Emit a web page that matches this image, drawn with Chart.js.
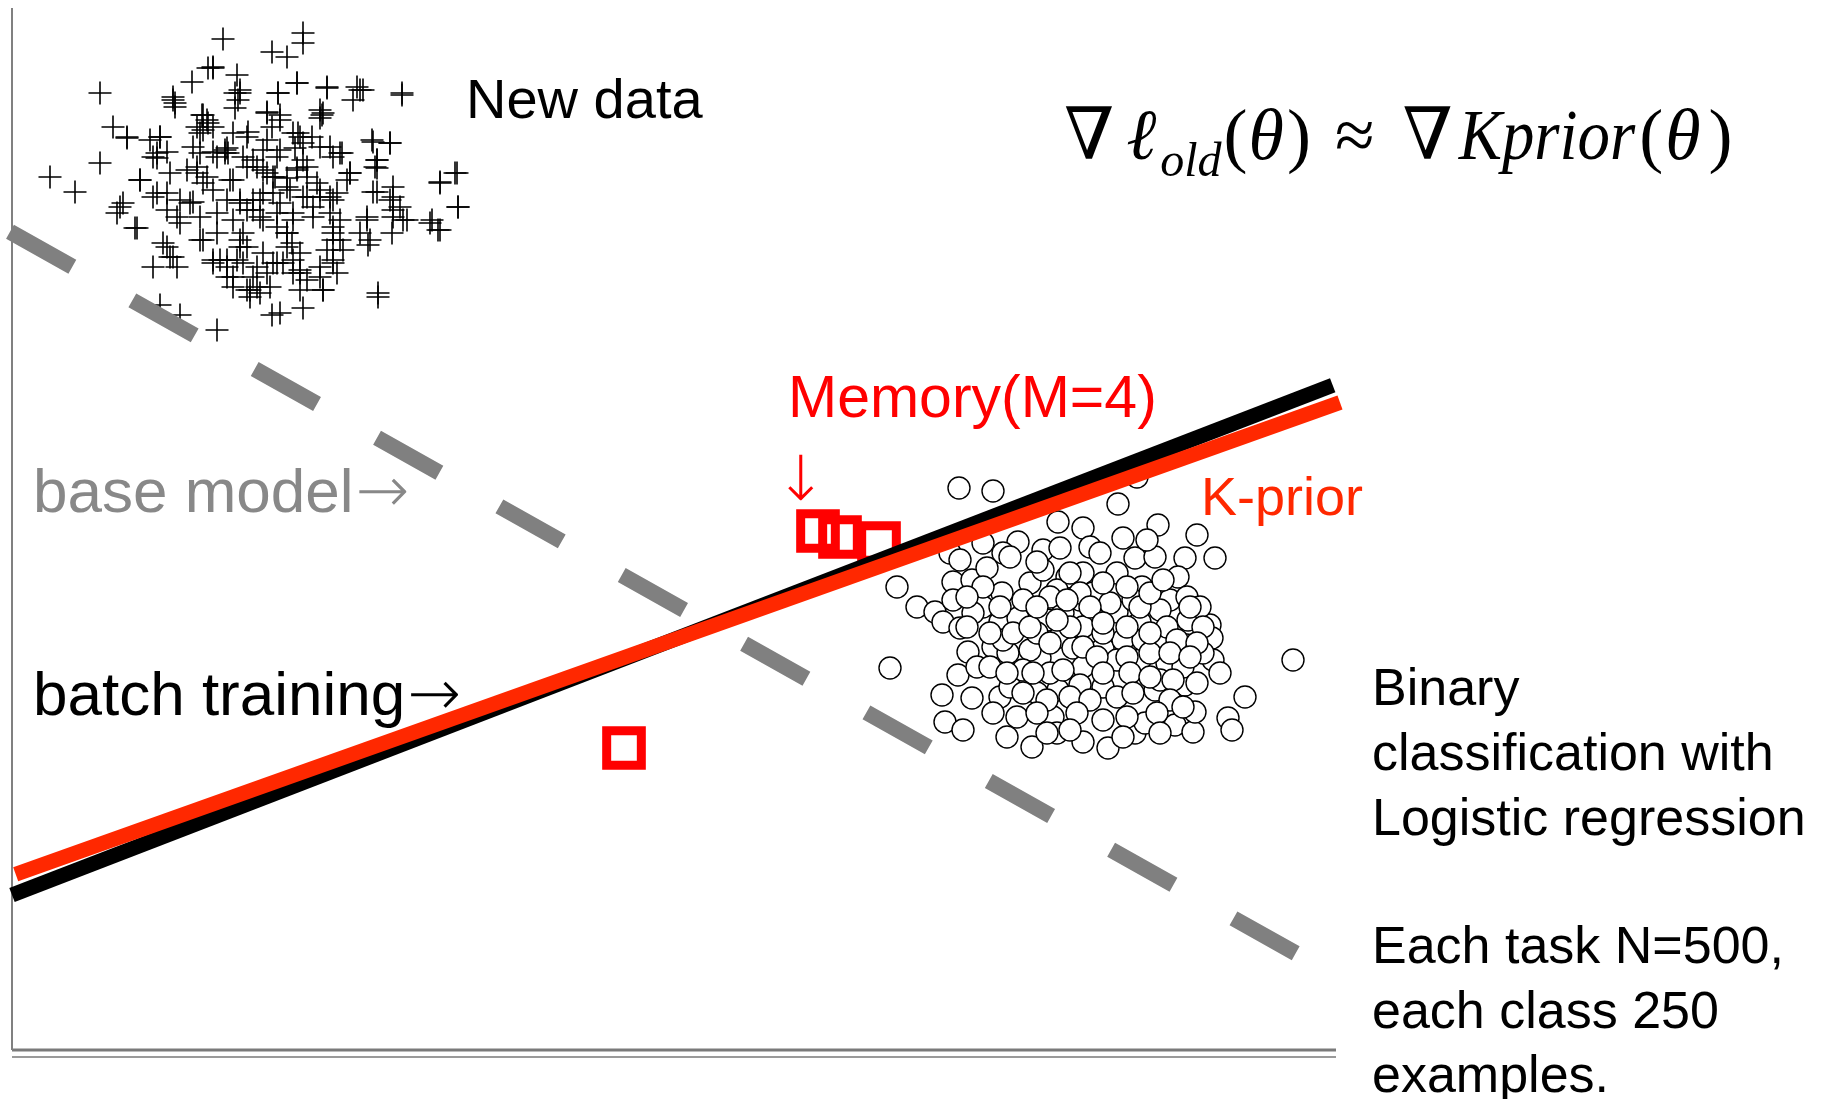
<!DOCTYPE html>
<html>
<head>
<meta charset="utf-8">
<title>K-prior: logistic regression toy example</title>
<script src="https://cdn.jsdelivr.net/npm/chart.js@4.4.1/dist/chart.umd.min.js"></script>
<style>
  html, body { margin: 0; padding: 0; background: #ffffff; }
  #wrap { width: 1829px; height: 1099px; }
  canvas { display: block; }
</style>
</head>
<body>
<div id="wrap"><canvas id="chart" width="1829" height="1099"></canvas></div>
<script>
// ---- feature space: x1 in [0, 132.4], x2 in [0, 104.2] ----
const X_MAX = 132.4;
const Y_MAX = 104.2;

// class "+" : new task data
const newDataPoints = [
  [29.1,101.7],[29.1,100.7],[21.1,101.1],[26.0,99.8],[27.5,99.3],[20.1,98.3],[19.6,98.2],[22.5,97.5],[18.0,96.8],[8.8,95.7],
  [22.8,96.0],[22.6,95.0],[16.1,95.0],[28.5,96.7],[26.6,95.7],[31.5,96.3],[34.5,96.3],[35.1,96.0],[34.1,95.0],[39.0,95.5],
  [16.3,94.3],[19.0,93.5],[19.5,93.0],[22.3,94.2],[25.5,93.8],[26.8,93.0],[31.0,93.5],[30.8,94.0],[10.1,92.3],[11.5,91.2],
  [14.8,91.3],[18.5,92.3],[19.1,92.0],[20.1,92.3],[22.1,91.7],[23.6,91.8],[26.0,92.3],[28.1,91.7],[28.8,91.3],[30.0,91.3],
  [36.0,91.0],[37.8,90.7],[14.1,89.3],[14.5,89.2],[15.5,89.8],[18.1,90.3],[18.8,89.7],[21.3,90.0],[21.6,89.7],[20.1,89.8],
  [23.1,89.3],[25.1,90.0],[26.5,89.3],[28.3,90.2],[29.1,89.0],[30.8,90.3],[32.1,89.3],[33.0,89.7],[36.5,89.0],[36.3,88.3],
  [8.8,88.7],[3.8,87.3],[12.8,87.0],[15.8,87.7],[17.5,88.0],[18.5,87.7],[19.5,87.3],[22.1,87.0],[23.5,88.3],[24.5,88.3],
  [25.5,87.7],[26.3,87.3],[27.5,87.2],[28.5,88.2],[29.5,87.3],[30.5,86.7],[33.8,87.7],[33.5,87.0],[38.1,86.3],[44.3,87.7],
  [42.8,86.7],[6.3,85.8],[10.8,84.3],[14.5,85.7],[15.5,85.7],[16.8,85.0],[18.1,84.8],[20.1,86.0],[21.5,85.0],[22.8,84.7],
  [24.1,85.0],[25.1,85.7],[26.8,84.7],[27.8,86.0],[29.5,85.3],[30.8,86.0],[31.8,85.3],[32.5,85.7],[36.1,85.8],[37.8,85.0],
  [38.8,84.3],[44.6,84.3],[10.5,83.7],[12.5,82.2],[16.5,83.3],[18.8,83.3],[20.5,83.7],[22.1,83.0],[23.5,84.0],[25.1,83.0],
  [26.5,83.7],[28.1,83.0],[30.1,83.3],[31.8,83.7],[32.8,83.0],[35.5,83.3],[38.1,83.3],[39.5,83.0],[41.8,82.7],[42.6,82.0],
  [34.8,81.7],[32.1,81.7],[15.1,80.7],[18.8,81.0],[20.5,81.7],[22.8,81.0],[23.5,80.3],[25.1,79.7],[27.5,81.7],[28.0,80.7],
  [28.8,79.7],[32.1,81.0],[33.1,80.0],[35.8,81.0],[38.0,81.7],[14.1,78.3],[15.8,79.3],[16.5,78.3],[20.1,78.7],[21.5,79.0],
  [23.1,78.7],[24.5,78.3],[26.1,78.7],[27.1,78.7],[28.1,77.7],[28.8,78.0],[29.5,77.0],[30.8,78.3],[32.1,78.7],[32.5,77.7],
  [22.1,77.3],[24.1,77.3],[22.1,76.3],[23.8,76.0],[24.8,75.7],[25.8,76.3],[31.1,76.0],[36.6,75.3],[29.1,74.2],[26.0,73.5],
  [26.8,73.7],[20.5,72.0],[23.8,75.3],[14.8,74.5],[16.8,73.5],
  [20.1,98.2],[16.1,95.3],[16.3,94.7],[19.1,93.5],[19.6,92.7],[21.5,90.2],[21.3,89.7],[22.3,95.7],[22.8,95.7],[26.6,95.7],
  [28.5,96.7],[31.5,96.2],[34.8,96.0],[39.0,95.7],[25.5,93.7],[26.8,93.5],[30.8,93.2],[31.1,93.7],[28.6,91.7],[29.1,90.7],
  [26.8,90.0],[25.5,91.0],[23.5,91.3],[24.1,89.0],[25.1,88.0],[26.1,87.3],[28.5,88.0],[29.5,88.3],[31.8,90.3],[32.8,89.7],
  [33.8,87.7],[36.1,90.8],[37.8,90.7],[36.5,89.0],[36.5,88.2],[42.8,86.8],[44.5,87.7],[44.6,84.3],[42.0,83.0],[42.8,82.0],
  [38.1,85.3],[38.1,84.0],[39.1,83.0],[36.5,85.8],[35.5,83.0],[35.6,80.5],[32.1,85.0],[30.8,85.3],[30.1,84.3],[32.1,82.3],
  [32.8,81.0],[31.5,80.0],[32.1,79.0],[27.5,81.7],[26.5,82.3],[24.8,83.3],[23.1,81.7],[22.8,80.3],[22.5,79.0],[21.5,78.3],
  [20.1,79.0],[19.1,81.0],[16.8,82.7],[15.5,84.0],[14.1,85.3],[12.8,87.0],[11.5,91.3],[11.1,84.7],[12.3,82.2],[15.5,80.3],
  [16.1,79.3],[17.8,84.7],[19.1,86.7],[18.5,88.3],[18.8,91.7],[20.5,89.3],[21.8,87.0],[22.8,85.0],[24.8,85.0],[24.1,84.0],
  [26.1,85.7],[27.5,86.3],[28.1,83.7],[29.1,85.3],[27.5,80.3],[28.1,79.0],[26.5,78.7],[25.5,77.7],[24.5,76.3],[23.5,76.0],
  [21.5,77.3],[20.8,79.0],[28.8,77.7],[31.1,76.0],[30.8,77.3],[28.8,76.0],[36.6,75.7],[13.8,91.0],[14.5,89.7],[14.8,91.3]
];

// class "o" : old task data
const oldDataPoints = [
  [94.7,56.2],[98.1,55.9],[110.6,54.6],[112.5,57.3],[104.6,52.8],[107.1,52.2],[114.6,52.5],[118.5,51.5],[88.5,46.3],[90.5,44.3],
  [87.8,38.2],[120.3,49.2],[128.1,39.0],[100.6,50.8],[97.1,50.7],[99.1,49.7],[99.8,49.3],[103.1,50.0],[104.8,50.2],[107.8,50.3],
  [108.8,49.7],[111.1,51.2],[112.3,49.2],[114.3,49.3],[117.3,49.2],[113.5,51.0],[93.8,49.7],[94.8,49.0],[94.1,46.8],[96.0,47.0],
  [97.5,48.2],[99.0,45.7],[101.8,46.7],[103.1,48.0],[105.5,47.3],[107.1,47.7],[108.1,45.7],[110.5,47.7],[113.0,46.3],[116.6,47.3],
  [115.8,45.0],[117.5,45.3],[104.5,46.0],[92.3,43.8],[94.1,45.0],[93.1,42.8],[94.8,42.2],[97.1,44.3],[98.8,42.8],[100.6,43.2],
  [103.5,43.0],[105.1,43.7],[108.1,43.3],[110.5,43.8],[112.8,42.8],[114.8,44.0],[117.6,43.0],[119.8,42.5],[118.8,44.3],[95.6,39.8],
  [98.1,40.3],[99.6,39.7],[102.8,39.2],[104.8,41.3],[106.1,40.2],[109.1,40.2],[111.1,41.0],[112.8,39.0],[114.8,40.5],[117.5,40.5],
  [120.0,41.2],[120.1,39.0],[120.8,37.7],[115.5,38.7],[107.1,38.3],[101.8,40.0],[94.6,37.5],[93.0,35.5],[96.0,35.2],[98.8,35.3],
  [99.8,36.3],[102.5,35.7],[104.6,36.0],[106.8,36.5],[109.1,36.3],[110.5,35.3],[113.1,36.7],[114.3,36.0],[117.3,36.5],[123.3,35.3],
  [93.3,32.8],[95.1,32.0],[99.5,31.3],[102.0,30.3],[104.1,33.3],[104.5,31.7],[107.1,30.8],[109.1,33.0],[109.6,30.2],[112.3,31.7],
  [113.3,32.7],[116.3,32.5],[118.1,31.8],[118.3,33.8],[121.6,33.2],[122.0,32.0],[103.8,45.3],[106.8,45.0],[109.8,44.7],[112.1,45.0],
  [101.1,45.0],[99.1,41.0],[107.1,42.3],[110.5,39.0],[103.8,37.7],[101.1,38.0],[113.1,41.0],[115.5,42.3],[117.1,38.3],[96.5,38.3],
  [119.1,39.7],[102.5,41.7],[105.8,42.3],[109.1,41.7],[112.8,44.3],[114.8,37.0],
  [102.5,48.8],[105.8,47.7],[106.8,45.7],[109.1,46.7],[111.5,46.3],[113.8,45.7],[115.1,47.0],[117.8,44.3],[119.1,42.3],[116.5,41.0],
  [118.5,40.7],[98.8,44.3],[96.1,43.7],[95.5,42.3],[97.8,41.7],[100.1,41.7],[101.8,42.3],[103.8,40.7],[107.1,40.3],[108.5,39.3],
  [111.5,39.3],[113.8,39.7],[115.8,39.7],[117.8,39.3],[97.8,38.3],[99.5,37.7],[102.1,37.7],[105.1,38.0],[109.1,37.7],[111.8,37.7],
  [113.8,37.3],[116.1,37.0],[118.5,36.7],[101.1,35.7],[103.5,35.0],[105.8,35.3],[107.8,35.0],[112.1,35.7],[115.8,35.0],[117.1,34.3],
  [98.1,33.7],[100.5,33.3],[102.5,33.7],[106.5,33.7],[111.5,33.3],[114.5,33.7],[103.5,31.7],[105.8,32.0],[111.1,31.3],[114.8,31.7],
  [97.1,46.3],[95.5,45.3],[102.5,44.3],[105.5,45.0],[107.8,44.3],[109.1,42.7],[111.5,42.3],[113.8,41.7],[104.5,43.0]
];

// stored memory examples (M = 4)
const memoryPoints = [[80.6,51.9],[82.8,51.3],[86.7,50.7],[61.2,30.2]];

// decision boundaries, given by their two end points
const baseModelBoundary   = [[-0.2,81.83],[128.37,9.67]];
const batchBoundary       = [[0.0,15.5],[132.07,66.47]];
const kpriorBoundary      = [[0.37,17.58],[132.8,64.75]];

// axis frame
const frameLeft    = [[0,0],[0,Y_MAX]];
const frameBottom  = [[0,0],[X_MAX,0]];
const frameBottom2 = [[0,-0.7],[X_MAX,-0.7]];

// texts
const titleNewData  = 'New data';
const memoryLabel   = 'Memory(M=4)';
const kpriorLabel   = 'K-prior';
const baseLabel     = 'base model';
const batchLabel    = 'batch training';
const taskNote      = ['Binary', 'classification with', 'Logistic regression'];
const sizeNote      = ['Each task N=500,', 'each class 250', 'examples.'];

const toXY = arr => arr.map(p => ({ x: p[0], y: p[1] }));

const SANS  = "'Liberation Sans', Arial, Helvetica, sans-serif";
const SERIF = "'Liberation Serif', 'DejaVu Serif', 'Times New Roman', serif";
const ARROW = "'DejaVu Sans', sans-serif";

const textLayer = {
  id: 'textLayer',
  afterDatasetsDraw(chart) {
    const ctx = chart.ctx;
    ctx.save();
    ctx.textAlign = 'left';
    ctx.textBaseline = 'alphabetic';

    const put = (txt, x, y, font, color, sx) => {
      ctx.font = font;
      ctx.fillStyle = color;
      const w = ctx.measureText(txt).width * (sx || 1);
      if (sx) {
        ctx.save();
        ctx.translate(x, y);
        ctx.scale(sx, 1);
        ctx.fillText(txt, 0, 0);
        ctx.restore();
      } else {
        ctx.fillText(txt, x, y);
      }
      return w;
    };

    // cluster label
    put(titleNewData, 466, 118, `56px ${SANS}`, '#000000');

    // memory annotation and arrow
    put(memoryLabel, 788, 417, `59px ${SANS}`, '#ff0000');
    ctx.textAlign = 'center';
    put('\u2193', 801, 500, `200 62px ${ARROW}`, '#ff0000');
    ctx.textAlign = 'left';

    // K-prior label
    put(kpriorLabel, 1201, 515, `54px ${SANS}`, '#ff2800');

    // boundary labels with arrows
    const wb = put(baseLabel, 33, 512, `62px ${SANS}`, '#888888');
    put('\u2192', 33 + wb + 2, 512, `200 64px ${ARROW}`, '#888888');
    const wt = put(batchLabel, 33, 715, `62px ${SANS}`, '#000000');
    put('\u2192', 33 + wt + 2, 715, `200 64px ${ARROW}`, '#000000');

    // side notes
    taskNote.forEach((s, i) => put(s, 1372, 705 + i * 65, `52px ${SANS}`, '#000000'));
    sizeNote.forEach((s, i) => put(s, 1372, 963 + i * 64.5, `52px ${SANS}`, '#000000'));

    // gradient matching formula, laid out left to right
    const base = 159;
    const up = `72px ${SERIF}`;
    const it = `italic 72px ${SERIF}`;
    const sub = `italic 48px ${SERIF}`;
    const parts = [
      ['\u2207', up, 0, 12, 1],
      ['\u2113', it, 0, 4, 1],
      ['old', sub, 17, 2, 1],
      ['(', up, 0, 1, 1],
      ['\u03b8', it, 0, 3, 1],
      [')', up, 0, 24, 1],
      ['\u2248', up, 0, 28, 1],
      ['\u2207', up, 0, 6, 1],
      ['Kprior', it, 0, 4, 0.9],
      ['(', up, 0, 2, 1],
      ['\u03b8', it, 0, 8, 1],
      [')', up, 0, 0, 1]
    ];
    let x = 1064;
    parts.forEach(([t, f, dy, gap, sx]) => {
      x += put(t, x, base + dy, f, '#000000', sx === 1 ? 0 : sx) + gap;
    });

    ctx.restore();
  }
};

const lineDs = (pts, color, width, order, extra) => Object.assign({
  type: 'scatter',
  data: toXY(pts),
  showLine: true,
  borderColor: color,
  backgroundColor: color,
  borderWidth: width,
  borderCapStyle: 'butt',
  pointRadius: 0,
  pointHoverRadius: 0,
  clip: false,
  order: order
}, extra || {});

new Chart(document.getElementById('chart'), {
  type: 'scatter',
  data: {
    datasets: [
      lineDs(kpriorBoundary, '#ff2800', 15, 1),
      lineDs(batchBoundary, '#000000', 15, 2),
      lineDs(baseModelBoundary, '#808080', 16, 3, { borderDash: [71.5, 68.8] }),
      {
        label: 'memory',
        data: toXY(memoryPoints),
        pointStyle: 'rect',
        pointRadius: 24.5,
        pointHoverRadius: 24.5,
        borderWidth: 9,
        borderColor: '#ff0000',
        backgroundColor: 'rgba(255,255,255,0)',
        order: 4
      },
      {
        label: 'old task',
        data: toXY(oldDataPoints),
        pointStyle: 'circle',
        pointRadius: 11,
        pointHoverRadius: 11,
        borderWidth: 1.4,
        borderColor: '#000000',
        backgroundColor: '#ffffff',
        order: 5
      },
      {
        label: 'new task',
        data: toXY(newDataPoints),
        pointStyle: 'cross',
        pointRadius: 11.5,
        pointHoverRadius: 11.5,
        borderWidth: 1.6,
        borderColor: '#000000',
        order: 6
      },
      lineDs(frameLeft, '#808080', 2, 7),
      lineDs(frameBottom, '#7a7a7a', 3, 8),
      lineDs(frameBottom2, '#9a9a9a', 2, 9)
    ]
  },
  options: {
    responsive: false,
    devicePixelRatio: 1,
    animation: false,
    events: [],
    layout: { autoPadding: false, padding: { left: 12, right: 493, top: 8, bottom: 49 } },
    scales: {
      x: { type: 'linear', min: 0, max: X_MAX, display: false },
      y: { type: 'linear', min: 0, max: Y_MAX, display: false }
    },
    plugins: {
      legend: { display: false },
      tooltip: { enabled: false }
    }
  },
  plugins: [textLayer]
});
</script>
</body>
</html>
